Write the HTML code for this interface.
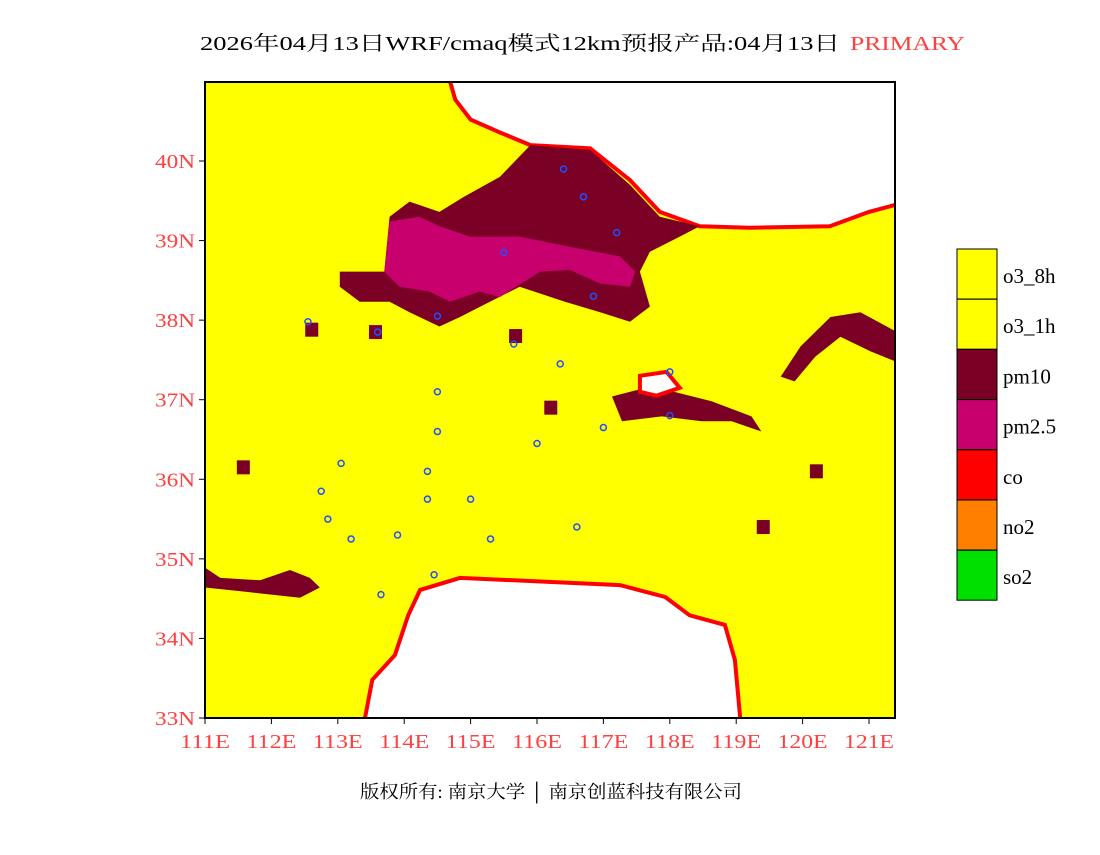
<!DOCTYPE html>
<html><head><meta charset="utf-8"><style>
body{margin:0;background:#fff;width:1100px;height:850px;overflow:hidden}
svg text{font-family:"Liberation Serif","Noto Serif CJK SC",serif}
</style></head><body>
<svg id="c" width="1100" height="850">
<text x="200" y="50" font-size="20" textLength="640" lengthAdjust="spacingAndGlyphs">2026年04月13日WRF/cmaq模式12km预报产品:04月13日</text>
<text x="850" y="50" font-size="20" fill="#ff4040" textLength="115" lengthAdjust="spacingAndGlyphs">PRIMARY</text>
<g id="map"></g>
<g id="axes"></g>
<g id="legend"></g>
<text x="360" y="798" font-size="18" textLength="382" lengthAdjust="spacingAndGlyphs">版权所有: 南京大学 │ 南京创蓝科技有限公司</text>
</svg>
<script>
const xTicks=[111,112,113,114,115,116,117,118,119,120,121];
const yTicks=[33,34,35,36,37,38,39,40];
const legendLabels=["o3_8h","o3_1h","pm10","pm2.5","co","no2","so2"];
const legendColors=["#ffff00","#ffff00","#7a0025","#c8006e","#ff0000","#ff8000","#00e000"];
const whiteNorth=[[114.69,41.0],[114.77,40.77],[115.0,40.52],[115.44,40.36],[115.9,40.2],[116.8,40.16],[117.4,39.76],[117.85,39.36],[118.45,39.18],[119.2,39.16],[120.41,39.18],[121.0,39.36],[121.4,39.45],[121.6,39.45],[121.6,41.2],[114.69,41.2]];
const whiteSouth=[[113.41,33.0],[113.52,33.48],[113.86,33.79],[114.06,34.29],[114.24,34.61],[114.84,34.76],[117.25,34.67],[117.93,34.52],[118.3,34.29],[118.83,34.17],[118.98,33.73],[119.06,33.0],[119.06,32.5],[113.41,32.5]];
const pm10North=[[113.03,38.61],[113.7,38.61],[113.78,39.3],[114.08,39.49],[114.53,39.36],[114.9,39.55],[115.44,39.8],[115.9,40.2],[116.8,40.14],[117.4,39.7],[117.85,39.3],[118.45,39.18],[118.15,39.05],[117.7,38.86],[117.55,38.61],[117.7,38.17],[117.4,37.98],[116.95,38.1],[116.42,38.23],[115.74,38.42],[115.29,38.23],[114.84,38.04],[114.53,37.92],[114.08,38.1],[113.78,38.23],[113.33,38.23],[113.03,38.42]];
const pm25North=[[113.78,39.24],[114.23,39.3],[114.53,39.18],[114.99,39.05],[115.74,39.05],[116.5,38.92],[117.25,38.8],[117.48,38.61],[117.4,38.42],[116.95,38.46],[116.5,38.63],[116.05,38.61],[115.44,38.29],[115.14,38.36],[114.69,38.23],[114.38,38.36],[113.93,38.42],[113.7,38.61]];
const pm10Coast=[[119.67,37.29],[119.97,37.67],[120.42,38.04],[120.87,38.1],[121.4,37.86],[121.4,37.48],[121.02,37.61],[120.57,37.79],[120.19,37.54],[119.88,37.23]];
const pm10Shandong=[[117.13,37.04],[117.73,37.17],[118.63,36.98],[119.23,36.79],[119.38,36.6],[118.93,36.73],[118.48,36.73],[117.88,36.79],[117.28,36.73]];
const pm10SW=[[111.0,34.89],[111.23,34.76],[111.83,34.73],[112.28,34.86],[112.58,34.76],[112.73,34.64],[112.43,34.51],[111.68,34.58],[111.0,34.64]];
const whiteShandong=[[117.55,37.3],[117.95,37.35],[118.15,37.15],[117.8,37.05],[117.55,37.1]];
const pm10Spots=[[112.6,37.88],[113.56,37.85],[115.67,37.8],[111.57,36.15],[116.2,36.9],[120.2,36.1],[119.4,35.4]];
const stations=[[116.4,39.9],[116.7,39.55],[117.2,39.1],[115.5,38.85],[116.85,38.3],[114.5,38.05],[112.55,37.98],[113.6,37.85],[115.65,37.7],[116.35,37.45],[118.0,37.35],[114.5,37.1],[114.5,36.6],[116.0,36.45],[117.0,36.65],[118.0,36.8],[113.05,36.2],[114.35,36.1],[115.0,35.75],[114.35,35.75],[112.85,35.5],[113.2,35.25],[113.9,35.3],[115.3,35.25],[116.6,35.4],[112.75,35.85],[114.45,34.8],[113.65,34.55]];
const X0=205,X1=895,Y0=82,Y1=718;
const px=l=>205+(l-111)*66.4, py=l=>161-(l-40)*79.57;
const NS='http://www.w3.org/2000/svg';
function mk(t,a,p){const e=document.createElementNS(NS,t);for(const k in a)e.setAttribute(k,a[k]);p.appendChild(e);return e;}
const map=document.getElementById('map'),axes=document.getElementById('axes'),leg=document.getElementById('legend');
const cp=mk('clipPath',{id:'cl'},map);mk('rect',{x:X0,y:Y0,width:X1-X0,height:Y1-Y0},cp);
const g=mk('g',{'clip-path':'url(#cl)'},map);
const bg=mk('rect',{x:X0,y:Y0,width:X1-X0,height:Y1-Y0,fill:'#ffff00'},g);


const pts=a=>a.map(p=>px(p[0]).toFixed(1)+','+py(p[1]).toFixed(1)).join(' ');
function poly(a,fill,name,stroke){const e=mk('polygon',{points:pts(a),fill:fill},g);if(stroke){e.setAttribute('stroke',stroke);e.setAttribute('stroke-width','4');}

return e;}
poly(whiteNorth,'#fff','no-data-north','#ff0000');
poly(whiteSouth,'#fff','no-data-south','#ff0000');
poly(pm10North,'#7a0025','pm10-north');
poly(pm25North,'#c8006e','pm25-north');
poly(pm10Coast,'#7a0025','pm10-coast');
poly(pm10Shandong,'#7a0025','pm10-shandong');
poly(whiteShandong,'#fff','no-data-shandong','#ff0000');
poly(pm10SW,'#7a0025','pm10-southwest');
pm10Spots.forEach(s=>{const r=mk('rect',{x:px(s[0])-6,y:py(s[1])-7,width:13,height:14,fill:'#7a0025'},g);

});
stations.forEach(s=>{const c=mk('circle',{cx:px(s[0]),cy:py(s[1]),r:3,fill:'none',stroke:'#2050ff','stroke-width':1.5},g);

});
const fr=mk('rect',{x:X0,y:Y0,width:X1-X0,height:Y1-Y0,fill:'none',stroke:'#000','stroke-width':2},map);


xTicks.forEach(t=>{const x=px(t);mk('line',{x1:x,x2:x,y1:Y1,y2:Y1+6,stroke:'#000'},axes);
const tx=mk('text',{x:x,y:Y1+30,'text-anchor':'middle','font-size':20,fill:'#ff4040',textLength:50,lengthAdjust:'spacingAndGlyphs'},axes);tx.textContent=t+'E';

});
yTicks.forEach(t=>{const y=py(t);mk('line',{x1:X0-6,x2:X0,y1:y,y2:y,stroke:'#000'},axes);
const tx=mk('text',{x:X0-10,y:y+7,'text-anchor':'end','font-size':20,fill:'#ff4040',textLength:40,lengthAdjust:'spacingAndGlyphs'},axes);tx.textContent=t+'N';

});
legendLabels.forEach((l,i)=>{const y=249+i*50.2;
const r=mk('rect',{x:957,y:y,width:40,height:50,fill:legendColors[i],stroke:'#000','stroke-width':1},leg);


const t=mk('text',{x:1003,y:y+34,'font-size':21},leg);t.textContent=l;

});
</script>
</body></html>
